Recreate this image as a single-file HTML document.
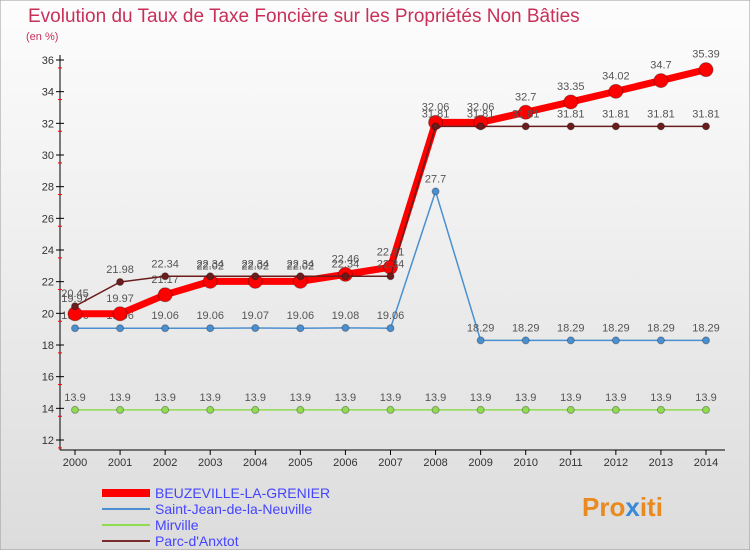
<!DOCTYPE html>
<html><head><meta charset="utf-8"><style>
body{margin:0;width:750px;height:550px;overflow:hidden;font-family:"Liberation Sans",sans-serif}
svg text{font-family:"Liberation Sans",sans-serif}
</style></head><body>
<svg id="c" width="750" height="550">
<defs><linearGradient id="bg" x1="0" y1="0" x2="0" y2="1"><stop offset="0" stop-color="#fdfdfd"/><stop offset="1" stop-color="#dcdcdc"/></linearGradient></defs>
<rect x="0" y="0" width="750" height="550" fill="url(#bg)" stroke="#999"/>
<text x="28" y="22" font-size="19" fill="#c8305a">Evolution du Taux de Taxe Foncière sur les Propriétés Non Bâties</text>
<text x="26" y="40" font-size="11" fill="#c8305a">(en %)</text>
<g id="axes"></g><g id="series"></g>
<g>
<line x1="102" y1="493" x2="150" y2="493" stroke="#f00" stroke-width="8"/>
<text x="155" y="498" font-size="14" fill="#44f">BEUZEVILLE-LA-GRENIER</text>
<line x1="102" y1="509" x2="150" y2="509" stroke="#4a90d0" stroke-width="2"/>
<text x="155" y="514" font-size="14" fill="#44f">Saint-Jean-de-la-Neuville</text>
<line x1="102" y1="525" x2="150" y2="525" stroke="#8fdc50" stroke-width="2"/>
<text x="155" y="530" font-size="14" fill="#44f">Mirville</text>
<line x1="102" y1="541" x2="150" y2="541" stroke="#7a2a2a" stroke-width="2"/>
<text x="155" y="546" font-size="14" fill="#44f">Parc-d'Anxtot</text>
</g>
<text x="582" y="516" font-size="26" font-weight="bold" fill="#e88a20">Pro<tspan fill="#3a8ad8">x</tspan>iti</text>
</svg>
<script>
const years=[2000,2001,2002,2003,2004,2005,2006,2007,2008,2009,2010,2011,2012,2013,2014];
const yTicks=[12,14,16,18,20,22,24,26,28,30,32,34,36];
const beuzeville=[19.97,19.97,21.17,22.02,22.02,22.02,22.46,22.91,32.06,32.06,32.7,33.35,34.02,34.7,35.39];
const beuzevilleLabels=["19.97","19.97","21.17","22.02","22.02","22.02","22.46","22.91","32.06","32.06","32.7","33.35","34.02","34.7","35.39"];
const saintJean=[19.06,19.06,19.06,19.06,19.07,19.06,19.08,19.06,27.7,18.29,18.29,18.29,18.29,18.29,18.29];
const mirville=[13.9,13.9,13.9,13.9,13.9,13.9,13.9,13.9,13.9,13.9,13.9,13.9,13.9,13.9,13.9];
const parc=[20.45,21.98,22.34,22.34,22.34,22.34,22.34,22.34,31.81,31.81,31.81,31.81,31.81,31.81,31.81];
const NS="http://www.w3.org/2000/svg";
const X=i=>75+i*(706-75)/(years.length-1);
const Y=v=>440-(v-12)*(380/24);
function mk(t,a,p){const e=document.createElementNS(NS,t);for(const k in a)e.setAttribute(k,a[k]);p.appendChild(e);return e;}
const ax=document.getElementById('axes'),sg=document.getElementById('series');
const yl=mk('line',{x1:60,y1:55,x2:60,y2:450,stroke:'#000'},ax);


const xl=mk('line',{x1:60,y1:450,x2:725,y2:450,stroke:'#000'},ax);


yTicks.forEach(v=>{const y=Y(v);
mk('line',{x1:56,y1:y,x2:64,y2:y,stroke:'#000'},ax);
mk('line',{x1:58,y1:y+7.9,x2:62,y2:y+7.9,stroke:'#f00'},ax);
const t=mk('text',{x:54,y:y+4,'font-size':11,'text-anchor':'end',fill:'#333'},ax);t.textContent=v;

});
years.forEach((yr,i)=>{mk('line',{x1:X(i),y1:450,x2:X(i),y2:455,stroke:'#000'},ax);
const t=mk('text',{x:X(i),y:466,'font-size':11,'text-anchor':'middle',fill:'#333'},ax);t.textContent=yr;

});
function series(vals,labels,color,w,r,name,dy){
const g=mk('g',{},sg);


mk('polyline',{points:vals.map((v,i)=>X(i)+','+Y(v)).join(' '),fill:'none',stroke:color,'stroke-width':w,'stroke-linejoin':'round'},g);
vals.forEach((v,i)=>{const c=mk('circle',{cx:X(i),cy:Y(v),r:r,fill:color,stroke:'rgba(0,0,0,0.3)'},g);


const t=mk('text',{x:X(i),y:Y(v)-dy,'font-size':11,'text-anchor':'middle',fill:'#555'},g);t.textContent=labels?labels[i]:String(v);

});}
series(mirville,null,'#8fdc50',1.5,3.5,'mirville',9);
series(saintJean,null,'#4a90d0',1.5,3.5,'saint-jean',9);
series(beuzeville,beuzevilleLabels,'#f00',7,7,'beuzeville',12);
series(parc,null,'#6b1c1c',1.5,3.5,'parc',9);
</script>
</body></html>
